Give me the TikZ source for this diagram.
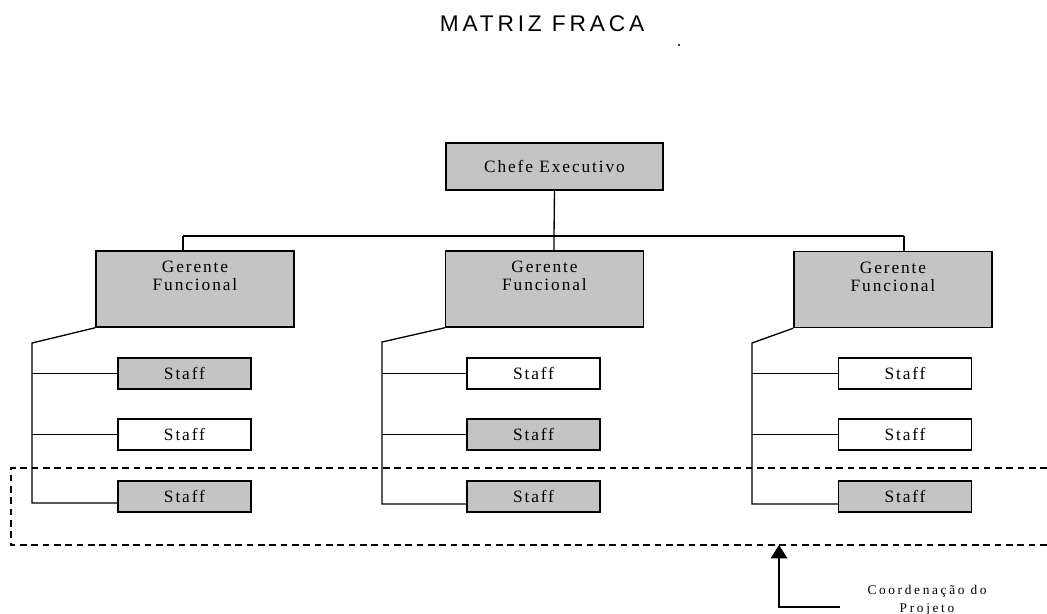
\documentclass[tikz,border=0pt]{standalone}
\usepackage{fontspec}
\setmainfont{Liberation Serif}
\newfontfamily\titlefont[LetterSpace=17]{Liberation Sans}
\newfontfamily\boxfont[LetterSpace=11]{Liberation Serif}
\newfontfamily\notefont[LetterSpace=20]{Liberation Serif}
\usetikzlibrary{arrows.meta}
\definecolor{boxgray}{HTML}{C4C4C4}
\tikzset{
  line/.style={line width=1pt, black},
  basebox/.style={draw=black, line width=1.1pt, inner sep=0pt, align=center,
    font=\boxfont\fontsize{13}{13.5}\selectfont},
  chefebox/.style={basebox, fill=boxgray, minimum width=162.75pt, minimum height=35.25pt},
  gerbox/.style={basebox, fill=boxgray, minimum width=148.5pt, minimum height=57pt},
  gertext/.style={inner sep=0pt, align=center, font=\boxfont\fontsize{13}{13.5}\selectfont},
  staffgray/.style={basebox, fill=boxgray, minimum width=99.75pt, minimum height=23.25pt},
  staffwhite/.style={basebox, fill=white, minimum width=99.75pt, minimum height=23.25pt},
  projline/.style={dashed, dash pattern=on 5pt off 3.5pt, line width=0.8pt},
}
\begin{document}
\begin{tikzpicture}[x=0.75pt, y=-0.75pt]
\useasboundingbox (0,0) rectangle (1047,614);
\fill[white] (0,0) rectangle (1047,614);

% title
\node[inner sep=0pt, font=\titlefont\fontsize{17}{18}\selectfont] (title) at (542,24) {MATRIZ FRACA};
\fill (679,45) circle (1.1);

% boxes
\node[chefebox] (ce) at (554.5,166.5) {Chefe Executivo};
\node[gerbox] (gl) at (195,289) {};
\node[gerbox] (gm) at (544.5,289) {};
\node[gerbox] (gr) at (893,289.5) {};
\node[gertext] (glt) at (195,276) {Gerente\\Funcional};
\node[gertext] (gmt) at (544.5,276) {Gerente\\Funcional};
\node[gertext] (grt) at (893,276.5) {Gerente\\Funcional};

\node[staffgray]  (s11) at (184.5,373.5) {Staff};
\node[staffwhite] (s12) at (184.5,434.5) {Staff};
\node[staffgray]  (s13) at (184.5,496.5) {Staff};
\node[staffwhite] (s21) at (533.5,373.5) {Staff};
\node[staffgray]  (s22) at (533.5,434.5) {Staff};
\node[staffgray]  (s23) at (533.5,496.5) {Staff};
\node[staffwhite] (s31) at (905,373.5) {Staff};
\node[staffwhite] (s32) at (905,434.5) {Staff};
\node[staffgray]  (s33) at (905,496.5) {Staff};

% top bus
\coordinate (busL) at (183,236);
\coordinate (busC) at (554,236);
\coordinate (busR) at (904,236);
\draw[line] (ce.south) -- (busC) -- (busC |- gm.north);
\draw[line] (busL) -- (busR);
\draw[line] (busL) -- (busL |- gl.north);
\draw[line] (busR) -- (busR |- gr.north);

% left column
\coordinate (tL) at (32,343);
\coordinate (bL) at (32,503);
\draw[line] (gl.south west) -- (tL) -- (bL) -- (bL -| s13.west);
\draw[line] (tL |- s11.west) -- (s11.west);
\draw[line] (tL |- s12.west) -- (s12.west);

% middle column
\coordinate (tM) at (382,342);
\coordinate (bM) at (382,504);
\draw[line] (gm.south west) -- (tM) -- (bM) -- (bM -| s23.west);
\draw[line] (tM |- s21.west) -- (s21.west);
\draw[line] (tM |- s22.west) -- (s22.west);

% right column
\coordinate (tR) at (752,343);
\coordinate (bR) at (752,504);
\draw[line] (gr.south west) -- (tR) -- (bR) -- (bR -| s33.west);
\draw[line] (tR |- s31.west) -- (s31.west);
\draw[line] (tR |- s32.west) -- (s32.west);

% project coordination dashed frame
\coordinate (dTR) at (1047,468);
\coordinate (dTL) at (11,468);
\coordinate (dBL) at (11,545);
\coordinate (dBR) at (1047,545);
\draw[projline] (dTR) -- (dTL) -- (dBL) -- (dBR);

% arrow
\coordinate (arrT) at (779,545);
\coordinate (arrB) at (779,607);
\coordinate (arrE) at (840,607);
\draw[line, -{Triangle[width=12.5pt,length=10pt]}] (arrE) -- (arrB) -- (arrT);
\node[inner sep=0pt, align=center, font=\notefont\fontsize{10}{13.5}\selectfont] (coord) at (927,600) {Coordenação do\\Projeto};
\end{tikzpicture}
\end{document}
